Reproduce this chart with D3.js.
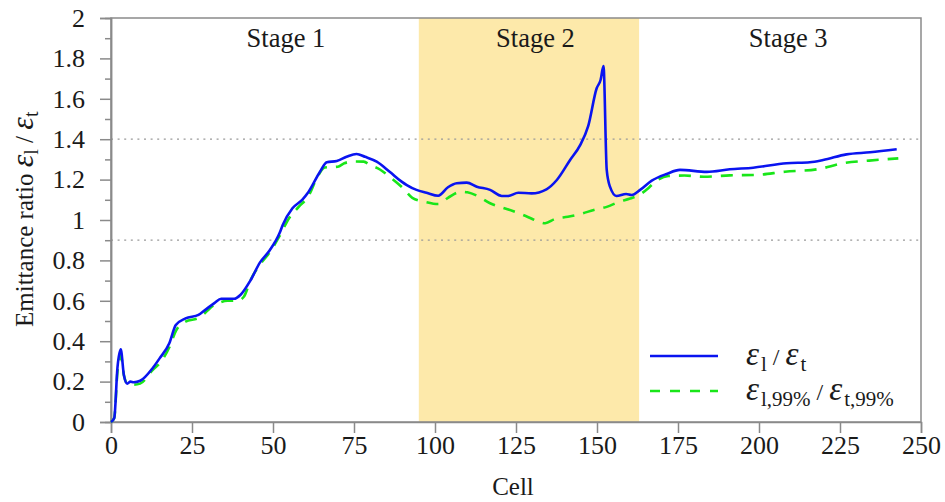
<!DOCTYPE html>
<html>
<head>
<meta charset="utf-8">
<script src="https://cdn.jsdelivr.net/npm/d3@7"></script>
<style>
  body { margin: 0; background: #fff; }
  text { font-family: "Liberation Serif", "Times New Roman", Times, "DejaVu Serif", serif; fill: #1a1a1a; }
</style>
</head>
<body>
<div id="chart"></div>
<script>
// emittance ratio per cell
const blueCells = [0, 1, 2, 3, 4, 5, 6, 7, 9, 13, 15, 18, 20, 23, 27, 29, 32, 34, 38, 40, 43, 46, 49, 52, 53, 56, 59, 61, 64.5, 66.6, 69.7, 72.7, 75.8, 78.4, 82, 86, 89.7, 91.3, 94.3, 97.4, 101, 104, 106.7, 109.8, 112.9, 117, 120.6, 122.6, 125.7, 129.8, 134.4, 137.6, 141.7, 144.8, 147.3, 149.9, 151.1, 152, 153, 154, 156, 159, 160.7, 163.3, 166.9, 171.5, 175.6, 183.9, 191, 198.2, 208.5, 215.7, 219.8, 227, 234.3, 242.5];
const blueVals  = [0, 0.02, 0.27, 0.36, 0.23, 0.19, 0.20, 0.197, 0.204, 0.27, 0.315, 0.39, 0.48, 0.513, 0.53, 0.554, 0.59, 0.61, 0.61, 0.63, 0.70, 0.79, 0.85, 0.934, 0.975, 1.058, 1.10, 1.14, 1.239, 1.286, 1.292, 1.313, 1.327, 1.313, 1.289, 1.239, 1.19, 1.173, 1.149, 1.135, 1.12, 1.162, 1.182, 1.185, 1.165, 1.149, 1.119, 1.119, 1.135, 1.132, 1.152, 1.198, 1.297, 1.371, 1.466, 1.652, 1.693, 1.762, 1.248, 1.165, 1.119, 1.129, 1.124, 1.149, 1.195, 1.228, 1.248, 1.238, 1.251, 1.259, 1.281, 1.286, 1.297, 1.325, 1.335, 1.35];

const greenCells = [0, 1, 2, 3, 4, 5, 7, 9, 13, 15, 18, 20, 23, 27, 32, 36, 39, 41, 43, 46, 49, 52, 55, 58, 61, 63.5, 66, 70, 72, 75, 78, 80, 83, 86, 90, 93, 97, 101, 104, 108, 110, 113, 117, 121, 124, 128, 132, 134, 137, 141, 145, 149, 153, 157, 160, 163, 166, 168, 172, 177, 183, 191, 199, 208, 218, 226, 234, 243];
const greenVals  = [0, 0.02, 0.25, 0.33, 0.23, 0.19, 0.185, 0.19, 0.26, 0.29, 0.37, 0.45, 0.497, 0.515, 0.58, 0.60, 0.60, 0.62, 0.70, 0.78, 0.84, 0.92, 1.01, 1.066, 1.12, 1.206, 1.26, 1.264, 1.281, 1.29, 1.289, 1.272, 1.25, 1.214, 1.16, 1.11, 1.09, 1.079, 1.11, 1.14, 1.137, 1.12, 1.083, 1.06, 1.045, 1.02, 0.992, 0.984, 1.005, 1.016, 1.03, 1.05, 1.065, 1.091, 1.105, 1.124, 1.16, 1.19, 1.218, 1.22, 1.214, 1.221, 1.223, 1.239, 1.251, 1.281, 1.294, 1.305];

const xTicks = [0, 25, 50, 75, 100, 125, 150, 175, 200, 225, 250];
const yTicks = [0, 0.2, 0.4, 0.6, 0.8, 1, 1.2, 1.4, 1.6, 1.8, 2];
const yMinor = [0.1, 0.3, 0.5, 0.7, 0.9, 1.1, 1.3, 1.5, 1.7, 1.9];
const refLines = [0.9, 1.4];
const stage2 = [95, 163];
const stageNames = ['Stage 1', 'Stage 2', 'Stage 3'];
const stageCenters = [54, 131, 209];

const serif = '"Liberation Serif", "Times New Roman", Times, "DejaVu Serif", serif';
const width = 945, height = 502;
const svg = d3.select('#chart')
      .append('svg')
      .attr('width', width)
      .attr('height', height)
      .style('font-family', serif);

// scales
const xScale = d3.scaleLinear().domain([0, 250]).range([111, 921]);
const yScale = d3.scaleLinear().domain([0, 2]).range([422, 18]);

// stage 2 band
svg.append('rect')
   .attr('x', xScale(stage2[0]))
   .attr('y', yScale(2))
   .attr('width', xScale(stage2[1]) - xScale(stage2[0]))
   .attr('height', yScale(0) - yScale(2))
   .attr('fill', '#fde9aa');

// dotted reference lines
svg.selectAll('.ref')
   .data(refLines)
   .enter()
   .append('line')
   .attr('class', 'ref')
   .attr('x1', xScale(0)).attr('x2', xScale(250))
   .attr('y1', d => yScale(d)).attr('y2', d => yScale(d))
   .attr('stroke', '#999')
   .attr('stroke-width', 1.3)
   .attr('stroke-dasharray', '2,4.6');

// frame
svg.append('rect')
   .attr('x', xScale(0)).attr('y', yScale(2))
   .attr('width', xScale(250) - xScale(0))
   .attr('height', yScale(0) - yScale(2))
   .attr('fill', 'none')
   .attr('stroke', '#8a8a8a')
   .attr('stroke-width', 1.5);

// axes
svg.append('g')
   .attr('transform', 'translate(' + xScale(0) + ',0)')
   .call(d3.axisLeft(yScale).tickValues(yTicks).tickSize(11).tickPadding(15)
         .tickFormat(d => d3.format('~g')(d)));
svg.append('g')
   .attr('transform', 'translate(' + xScale(0) + ',0)')
   .call(d3.axisLeft(yScale).tickValues(yMinor).tickSize(6).tickFormat(''));
svg.append('g')
   .attr('class', 'xaxis')
   .attr('transform', 'translate(0,' + yScale(0) + ')')
   .call(d3.axisBottom(xScale).tickValues(xTicks).tickSize(11).tickPadding(8));

svg.selectAll('g').attr('font-family', null);
svg.selectAll('.domain, .tick line')
   .attr('stroke', '#8a8a8a')
   .attr('stroke-width', 1.5);
svg.selectAll('.tick text')
   .style('font-family', serif)
   .style('font-size', '26px')
   .attr('fill', '#1a1a1a');
svg.selectAll('.xaxis .tick text').attr('y', 14);

// stage labels
svg.selectAll('.stage')
   .data(stageNames)
   .enter()
   .append('text')
   .attr('class', 'stage')
   .attr('x', (d, i) => xScale(stageCenters[i]))
   .attr('y', 47)
   .attr('text-anchor', 'middle')
   .style('font-size', '26.5px')
   .text(d => d);

// lines
const line = d3.line()
   .x(d => xScale(d[0]))
   .y(d => yScale(d[1]))
   .curve(d3.curveMonotoneX);

svg.append('path')
   .datum(greenCells.map((c, i) => [c, greenVals[i]]))
   .attr('d', line)
   .attr('fill', 'none')
   .attr('stroke', '#19e619')
   .attr('stroke-width', 2.6)
   .attr('stroke-dasharray', '12,9');

svg.append('path')
   .datum(blueCells.map((c, i) => [c, blueVals[i]]))
   .attr('d', line)
   .attr('fill', 'none')
   .attr('stroke', '#0a14f0')
   .attr('stroke-width', 2.6);

// axis titles
svg.append('text')
   .attr('x', 513).attr('y', 495)
   .attr('text-anchor', 'middle')
   .style('font-size', '25px')
   .text('Cell');

const yTitle = svg.append('text')
   .attr('transform', 'translate(33,327) rotate(-90)')
   .style('font-size', '25px');
yTitle.append('tspan').text('Emittance ratio ');
yTitle.append('tspan').style('font-style', 'italic').style('font-size', '32px').text('ε');
yTitle.append('tspan').attr('dy', 5).style('font-size', '20px').text('l');
yTitle.append('tspan').attr('dy', -5).text(' / ');
yTitle.append('tspan').style('font-style', 'italic').style('font-size', '32px').text('ε');
yTitle.append('tspan').attr('dy', 5).style('font-size', '20px').text('t');

// legend
const legend = [
  {main: 'ε', sub1: 'l', sub2: 't', color: '#0a14f0', dash: null, y: 356},
  {main: 'ε', sub1: 'l,99%', sub2: 't,99%', color: '#19e619', dash: '10,10', y: 391}
];
legend.forEach(function(l){
  svg.append('line')
     .attr('x1', 650).attr('x2', 718)
     .attr('y1', l.y).attr('y2', l.y)
     .attr('stroke', l.color)
     .attr('stroke-width', 2.6)
     .attr('stroke-dasharray', l.dash);
  const t = svg.append('text')
     .attr('x', 746).attr('y', l.y + 9)
     .style('font-size', '24px');
  t.append('tspan').style('font-style', 'italic').style('font-size', '33px').text(l.main);
  t.append('tspan').attr('dx', 2).attr('dy', 6).style('font-size', '21px').text(l.sub1);
  t.append('tspan').attr('dy', -6).text(' / ');
  t.append('tspan').style('font-style', 'italic').style('font-size', '33px').text(l.main);
  t.append('tspan').attr('dx', 2).attr('dy', 6).style('font-size', '21px').text(l.sub2);
});
</script>
</body>
</html>
